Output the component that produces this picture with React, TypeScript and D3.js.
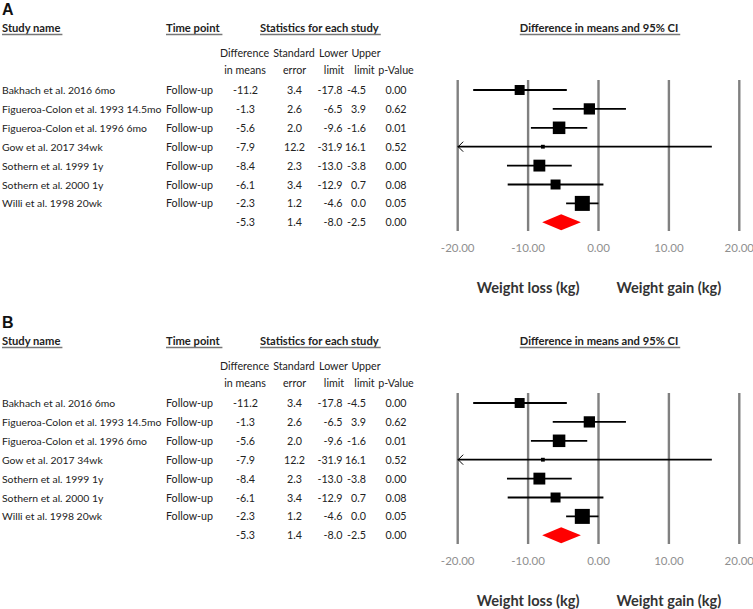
import React, { useEffect, useRef } from "react";
import * as d3 from "d3";

const panels = ["A", "B"];
const studies = [
  "Bakhach et al. 2016 6mo",
  "Figueroa-Colon et al. 1993 14.5mo",
  "Figueroa-Colon et al. 1996 6mo",
  "Gow et al. 2017 34wk",
  "Sothern et al. 1999 1y",
  "Sothern et al. 2000 1y",
  "Willi et al. 1998 20wk",
];
const timePoints = ["Follow-up", "Follow-up", "Follow-up", "Follow-up", "Follow-up", "Follow-up", "Follow-up"];
const diffMeans = [-11.2, -1.3, -5.6, -7.9, -8.4, -6.1, -2.3];
const stdErr = [3.4, 2.6, 2.0, 12.2, 2.3, 3.4, 1.2];
const lowerLimit = [-17.8, -6.5, -9.6, -31.9, -13.0, -12.9, -4.6];
const upperLimit = [-4.5, 3.9, -1.6, 16.1, -3.8, 0.7, 0.0];
const pValues = [0.0, 0.62, 0.01, 0.52, 0.0, 0.08, 0.05];
const summaryStats = { diff: -5.3, se: 1.4, lower: -8.0, upper: -2.5, p: 0.0 };
const xTicks = [-20, -10, 0, 10, 20];
const headers = ["Study name", "Time point", "Statistics for each study", "Difference in means and 95% CI"];
const subHeader1 = ["Difference", "Standard", "Lower", "Upper"];
const subHeader2 = ["in means", "error", "limit", "limit", "p-Value"];
const sideLabels = ["Weight loss (kg)", "Weight gain (kg)"];

const FONT = "Lato, 'Open Sans', sans-serif";

export default function App() {
  const ref = useRef<SVGSVGElement>(null);

  useEffect(() => {
    const svg = d3.select(ref.current);
    svg.selectAll("*").remove();

    const x = d3.scaleLinear().domain([-20, 20]).range([457.7, 739.3]);
    const sq = d3.scaleLog().domain([1.2, 12.2]).range([15, 3.8]);
    const rowY = d3.scaleLinear().domain([0, 1]).range([90, 108.9]);
    const panelOffset = d3.scaleLinear().domain([0, 1]).range([0, 313]);

    const textColor = "#222";
    const fs = 10.7;

    panels.forEach((p, pi) => {
      const g = svg.append("g").attr("transform", `translate(0,${panelOffset(pi)})`);

      g.append("text").attr("x", 2).attr("y", 15).text(p)
        .attr("font-family", "'Liberation Sans', Arial, sans-serif").attr("font-weight", "bold")
        .attr("font-size", 16).attr("fill", "#111");

      // headers
      const hx = [2, 166, 260, 599];
      const anchors = ["start", "start", "start", "middle"];
      headers.forEach((h, i) => {
        const t = g.append("text").attr("x", hx[i]).attr("y", 31.5).text(h)
          .attr("font-family", FONT).attr("font-weight", "bold").attr("font-size", 11.2)
          .attr("text-anchor", anchors[i]).attr("fill", textColor);
        const bb = (t.node() as SVGTextElement).getBBox();
        g.append("line").attr("x1", bb.x).attr("x2", bb.x + bb.width + 2)
          .attr("y1", 34.5).attr("y2", 34.5).attr("stroke", "#777").attr("stroke-width", 1.3);
      });

      const colC = [244.5, 294, 333.5, 366];
      subHeader1.forEach((s, i) => {
        g.append("text").attr("x", colC[i]).attr("y", 57).text(s)
          .attr("font-family", FONT).attr("font-size", fs).attr("text-anchor", "middle").attr("fill", textColor);
      });
      const colC2 = [245, 294.5, 334, 364.5, 396];
      subHeader2.forEach((s, i) => {
        g.append("text").attr("x", colC2[i]).attr("y", 74).text(s)
          .attr("font-family", FONT).attr("font-size", fs).attr("text-anchor", "middle").attr("fill", textColor);
      });

      // gridlines
      xTicks.forEach((t) => {
        g.append("line").attr("x1", x(t)).attr("x2", x(t)).attr("y1", 80).attr("y2", 231)
          .attr("stroke", "#808080").attr("stroke-width", 2.4);
        g.append("text").attr("x", x(t)).attr("y", 252).text(t.toFixed(2))
          .attr("font-family", FONT).attr("font-size", 11.5).attr("text-anchor", "middle").attr("fill", "#8f8f8f");
      });

      const rowText = (i: number, vals: string[]) => {
        const y = rowY(i) + 4;
        const specs: [number, string][] = [
          [2, "start"], [166, "start"], [245.5, "middle"], [294.5, "middle"], [342.5, "end"], [366, "end"], [396, "middle"],
        ];
        vals.forEach((v, k) => {
          if (v === "") return;
          g.append("text").attr("x", specs[k][0]).attr("y", y).text(v)
            .attr("font-family", FONT).attr("font-size", k === 0 ? 10.4 : fs)
            .attr("text-anchor", specs[k][1]).attr("fill", textColor);
        });
      };

      studies.forEach((s, i) => {
        rowText(i, [s, timePoints[i], diffMeans[i].toFixed(1), stdErr[i].toFixed(1), lowerLimit[i].toFixed(1), upperLimit[i].toFixed(1), pValues[i].toFixed(2)]);
        const y = rowY(i);
        const lo = Math.max(lowerLimit[i], -20);
        const hi = Math.min(upperLimit[i], 20);
        g.append("line").attr("x1", x(lo)).attr("x2", x(hi)).attr("y1", y).attr("y2", y)
          .attr("stroke", "#000").attr("stroke-width", 1.8);
        if (lowerLimit[i] < -20) {
          g.append("path")
            .attr("d", `M${x(-20) + 5.5},${y - 5}L${x(-20) + 0.5},${y}L${x(-20) + 5.5},${y + 5}`)
            .attr("fill", "none").attr("stroke", "#000").attr("stroke-width", 1);
        }
        const s2 = sq(stdErr[i]);
        g.append("rect").attr("x", x(diffMeans[i]) - s2 / 2).attr("y", y - s2 / 2)
          .attr("width", s2).attr("height", s2).attr("fill", "#000");
      });

      const si = studies.length;
      rowText(si, ["", "", summaryStats.diff.toFixed(1), summaryStats.se.toFixed(1), summaryStats.lower.toFixed(1), summaryStats.upper.toFixed(1), summaryStats.p.toFixed(2)]);
      const ys = rowY(si);
      g.append("path")
        .attr("d", `M${x(summaryStats.lower)},${ys}L${x(summaryStats.diff)},${ys - 8}L${x(summaryStats.upper)},${ys}L${x(summaryStats.diff)},${ys + 8}Z`)
        .attr("fill", "#ff0000");

      [x(-10), x(10)].forEach((cx, i) => {
        g.append("text").attr("x", cx).attr("y", 293).text(sideLabels[i])
          .attr("font-family", FONT).attr("font-weight", "bold").attr("font-size", 14.6)
          .attr("text-anchor", "middle").attr("fill", "#333");
      });
    });
  }, []);

  return (
    <svg ref={ref} width={753} height={609}
      style={{ position: "absolute", left: 0, top: 0, background: "#fff" }} />
  );
}
